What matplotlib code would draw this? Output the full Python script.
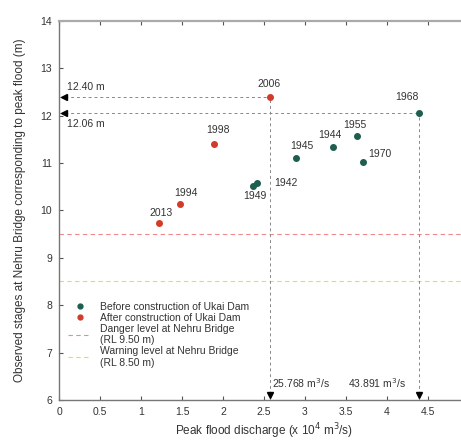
import matplotlib
matplotlib.use('Agg')
import matplotlib.pyplot as plt
from matplotlib.lines import Line2D

plt.rcParams['font.family'] = ['Liberation Sans', 'DejaVu Sans']

# Data
before_years = ['1968', '1955', '1944', '1945', '1970', '1942', '1949']
before_q = [4.3891, 3.64, 3.34, 2.89, 3.71, 2.42, 2.37]
before_h = [12.06, 11.56, 11.33, 11.10, 11.02, 10.58, 10.52]
before_lab_x = [4.24, 3.61, 3.30, 2.96, 3.92, 2.77, 2.39]
before_lab_y = [12.40, 11.80, 11.59, 11.35, 11.19, 10.58, 10.31]

after_years = ['2006', '1998', '1994', '2013']
after_q = [2.5768, 1.89, 1.48, 1.22]
after_h = [12.40, 11.41, 10.14, 9.73]
after_lab_x = [2.56, 1.94, 1.55, 1.25]
after_lab_y = [12.67, 11.69, 10.37, 9.95]

danger_level = 9.50
warning_level = 8.50

green = '#1d5e4e'
red = '#d23b2b'
fs = 7.5

fig = plt.figure(figsize=(4.61, 4.42), dpi=100)
ax = fig.add_axes([0.128, 0.095, 0.889, 0.858])

ax.set_xlim(0, 5)
ax.set_ylim(6, 14)

# level lines
ax.axhline(danger_level, color='#f08a8a', ls=(0, (4, 3)), lw=0.8)
ax.axhline(warning_level, color='#f0dc40', ls=(0, (4, 3)), lw=0.8)

# guide lines for the two peak events
ax.plot([0, after_q[0]], [after_h[0], after_h[0]], color='#888888', ls=(0, (3, 3)), lw=0.7)
ax.plot([after_q[0], after_q[0]], [6, after_h[0]], color='#888888', ls=(0, (3, 3)), lw=0.7)
ax.plot([0, before_q[0]], [before_h[0], before_h[0]], color='#888888', ls=(0, (3, 3)), lw=0.7)
ax.plot([before_q[0], before_q[0]], [6, before_h[0]], color='#888888', ls=(0, (3, 3)), lw=0.7)

# arrow heads on the axes
ax.plot([0.06, 0.06], [after_h[0], before_h[0]], ls='none', marker='<', color='black', ms=5, clip_on=False)
ax.plot([after_q[0], before_q[0]], [6.1, 6.1], ls='none', marker='v', color='black', ms=5, clip_on=False)

ax.text(0.1, 12.6, '12.40 m', fontsize=fs, va='center', color='#333333')
ax.text(0.1, 11.83, '12.06 m', fontsize=fs, va='center', color='#333333')
ax.text(2.60, 6.35, '25.768 m$^3$/s', fontsize=fs, va='center', color='#333333')
ax.text(3.52, 6.35, '43.891 m$^3$/s', fontsize=fs, va='center', color='#333333')

ax.plot(before_q, before_h, ls='none', marker='o', ms=4, color=green)
ax.plot(after_q, after_h, ls='none', marker='o', ms=4, color=red)

for yr, x, y in zip(before_years, before_lab_x, before_lab_y):
    ax.text(x, y, yr, fontsize=fs, ha='center', va='center', color='#333333')
for yr, x, y in zip(after_years, after_lab_x, after_lab_y):
    ax.text(x, y, yr, fontsize=fs, ha='center', va='center', color='#333333')

ax.set_xticks([0, 0.5, 1, 1.5, 2, 2.5, 3, 3.5, 4, 4.5])
ax.set_xticklabels(['0', '0.5', '1', '1.5', '2', '2.5', '3', '3.5', '4', '4.5'])
ax.set_yticks(range(6, 15))
ax.tick_params(direction='in', labelsize=fs, top=True, right=True, length=3, pad=5,
               color='#555555', labelcolor='#333333')
for s in ax.spines.values():
    s.set_color('#777777')
    s.set_linewidth(1.0)
ax.spines['top'].set_linewidth(1.6)
ax.spines['top'].set_color('#aaaaaa')

ax.set_xlabel('Peak flood discharge (x 10$^4$ m$^3$/s)', fontsize=8.5, color='#333333', labelpad=3)
ax.set_ylabel('Observed stages at Nehru Bridge corresponding to peak flood (m)', fontsize=8.5,
              color='#333333', labelpad=10)

handles = [
    Line2D([], [], ls='none', marker='o', ms=3.5, color=green),
    Line2D([], [], ls='none', marker='o', ms=3.5, color=red),
    Line2D([], [], color='#f08a8a', ls=(0, (4, 3)), lw=0.8),
    Line2D([], [], color='#f0dc40', ls=(0, (4, 3)), lw=0.8),
]
labels = ['Before construction of Ukai Dam', 'After construction of Ukai Dam',
          'Danger level at Nehru Bridge\n(RL 9.50 m)', 'Warning level at Nehru Bridge\n(RL 8.50 m)']
ax.legend(handles, labels, loc='lower left', bbox_to_anchor=(0.0, 0.06), frameon=False,
          fontsize=fs, handlelength=2.2, labelspacing=0.1, handletextpad=0.8, labelcolor='#333333')

fig.savefig('out.png', dpi=100)
